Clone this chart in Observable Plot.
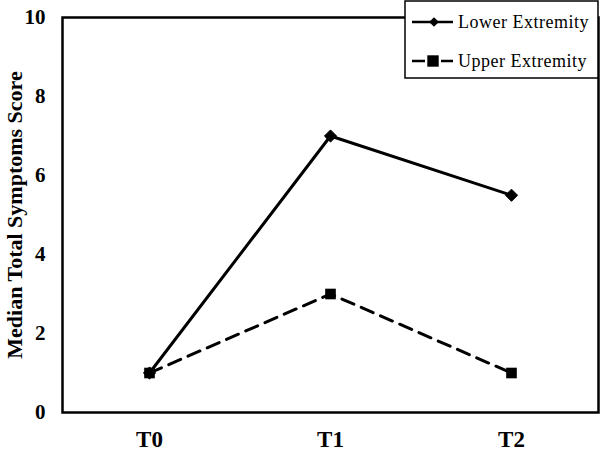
<!DOCTYPE html>
<html><head><meta charset="utf-8">
<script src="https://cdn.jsdelivr.net/npm/d3@7"></script>
<script src="https://cdn.jsdelivr.net/npm/@observablehq/plot@0.6"></script>
<style>body{margin:0;background:#fff}</style>
</head><body><div id="chart"></div>
<script>
const times = ["T0", "T1", "T2"];
const lowerValues = [1, 7, 5.5];
const upperValues = [1, 3, 1];
const seriesNames = ["Lower Extremity", "Upper Extremity"];
const yTicks = [0, 2, 4, 6, 8, 10];

const lower = times.map((t, i) => ({time: t, value: lowerValues[i], series: seriesNames[0]}));
const upper = times.map((t, i) => ({time: t, value: upperValues[i], series: seriesNames[1]}));

const font = "'Liberation Serif', 'Times New Roman', serif";
const chart = Plot.plot({
  width: 601, height: 456,
  marginLeft: 62, marginRight: 3, marginTop: 17, marginBottom: 44,
  style: {fontFamily: font, background: "#fff", color: "#000"},
  x: {type: "point", domain: times, padding: 0.48, label: null},
  y: {domain: [0, 10], ticks: yTicks, label: null},
  marks: [
    Plot.frame({stroke: "#000", strokeWidth: 2.5}),
    Plot.axisY({ticks: yTicks, tickSize: 0, tickPadding: 17, fontSize: 21, fontWeight: "bold", label: null}),
    Plot.axisX({tickSize: 0, tickPadding: 18, fontSize: 23, fontWeight: "bold", label: null}),
    Plot.text(["Median Total Symptoms Score"], {frameAnchor: "left", textAnchor: "middle", dx: -48, rotate: -90, fontSize: 22, fontWeight: "bold", fill: "#000"}),
    Plot.line(upper, {x: "time", y: "value", stroke: "#000", strokeWidth: 3, strokeDasharray: "13,8"}),
    Plot.line(lower, {x: "time", y: "value", stroke: "#000", strokeWidth: 3}),
    Plot.dot(upper, {x: "time", y: "value", symbol: "square", r: 6, fill: "#000"}),
    Plot.dot(lower, {x: "time", y: "value", symbol: "diamond2", r: 5.5, fill: "#000", stroke: "#000", strokeWidth: 1})
  ]
});
document.getElementById("chart").append(chart);

// Legend overlaid at top right
const svg = d3.select(chart);
const lg = svg.append("g").attr("text-anchor", "start");
lg.append("rect").attr("x", 405).attr("y", 1).attr("width", 193).attr("height", 77)
  .attr("fill", "#fff").attr("stroke", "#000").attr("stroke-width", 1.5);
const entries = [
  {name: seriesNames[0], y: 22, dash: null, symbol: d3.symbolDiamond2},
  {name: seriesNames[1], y: 61, dash: "13,16", symbol: d3.symbolSquare}
];
entries.forEach(e => {
  lg.append("line").attr("x1", 412).attr("x2", 453).attr("y1", e.y).attr("y2", e.y)
    .attr("stroke", "#000").attr("stroke-width", 2.5).attr("stroke-dasharray", e.dash);
  lg.append("path").attr("d", d3.symbol(e.symbol, e.symbol === d3.symbolSquare ? 130 : 60)())
    .attr("transform", `translate(${e.symbol === d3.symbolSquare ? 433 : 434},${e.y})`).attr("fill", "#000");
  lg.append("text").attr("x", 458).attr("y", e.y).attr("dy", "0.35em").attr("text-anchor", "start")
    .attr("font-family", font).attr("font-size", 18).attr("letter-spacing", 0.5).attr("fill", "#000").text(e.name);
});
</script></body></html>
